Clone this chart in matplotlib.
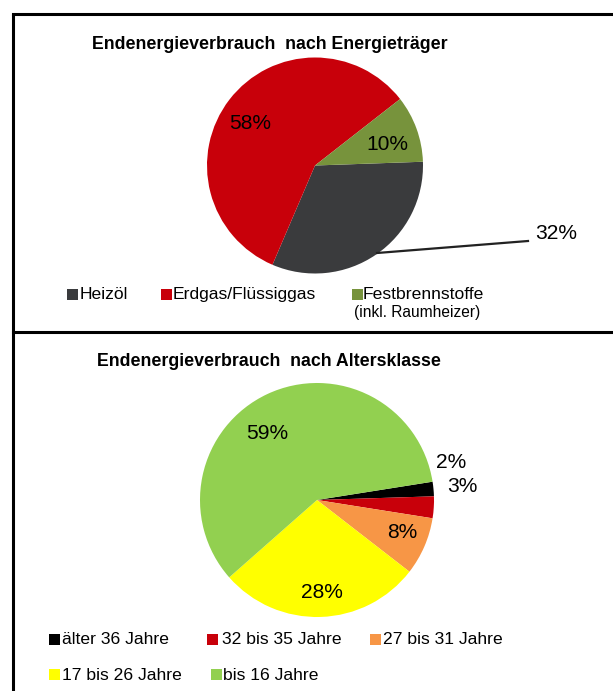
import matplotlib
matplotlib.use("Agg")
import matplotlib.pyplot as plt
from matplotlib.patches import Rectangle

plt.rcParams['font.family'] = ['Liberation Sans', 'DejaVu Sans']

# Final energy consumption by energy carrier
carrier_labels = ["Heizöl", "Erdgas/Flüssiggas", "Festbrennstoffe"]
carrier_values = [32, 58, 10]
carrier_colors = ["#3a3b3d", "#c8000a", "#77933c"]

# Final energy consumption by age class
age_labels = ["älter 36 Jahre", "32 bis 35 Jahre", "27 bis 31 Jahre",
              "17 bis 26 Jahre", "bis 16 Jahre"]
age_values = [2, 3, 8, 28, 59]
age_colors = ["#000000", "#c8000a", "#f79646", "#ffff00", "#92d050"]

W, H = 613, 691
fig = plt.figure(figsize=(W / 100, H / 100), dpi=100)
ax = fig.add_axes([0, 0, 1, 1])


def Y(y):
    return H - y


PT = 0.72  # pixel -> point at 100 dpi

# frame
ax.plot([13, 13], [Y(14), Y(H + 5)], color='black', lw=2.2, solid_capstyle='butt')
ax.plot([13, W + 5], [Y(14), Y(14)], color='black', lw=2.2)
ax.plot([13, W + 5], [Y(332), Y(332)], color='black', lw=2.2)

# ---------- top chart ----------
ax.text(270, Y(44), "Endenergieverbrauch  nach Energieträger", ha='center',
        va='center', fontsize=17.8 * PT, fontweight='bold')

c1 = (315, Y(165.5))
r1 = 108
ax.pie(carrier_values, colors=carrier_colors, startangle=2, counterclock=False,
       center=c1, radius=r1, wedgeprops=dict(linewidth=0), frame=True)

ptxt = dict(ha='center', va='center', fontsize=21 * PT)
ax.text(250, Y(123), f"{carrier_values[1]}%", **ptxt)
ax.text(387, Y(144), f"{carrier_values[2]}%", **ptxt)
ax.plot([377, 528], [Y(253), Y(241)], color='#222222', lw=1.6)
ax.text(556, Y(233), f"{carrier_values[0]}%", **ptxt)

leg1 = [(67, 80), (161, 173), (352, 363)]
for (sx, tx), lab, col in zip(leg1, carrier_labels, carrier_colors):
    ax.add_patch(Rectangle((sx, Y(299.5)), 11, 11, color=col, lw=0))
    ax.text(tx, Y(294.5), lab, ha='left', va='center', fontsize=17.5 * PT)
ax.text(417, Y(312), "(inkl. Raumheizer)", ha='center', va='center', fontsize=15.5 * PT)

# ---------- bottom chart ----------
ax.text(269, Y(361), "Endenergieverbrauch  nach Altersklasse", ha='center',
        va='center', fontsize=17.8 * PT, fontweight='bold')

c2 = (317, Y(500))
r2 = 117
ax.pie(age_values, colors=age_colors, startangle=9, counterclock=False,
       center=c2, radius=r2, wedgeprops=dict(linewidth=0), frame=True)

label_pos = [(451, 463), (462, 487), (402, 533), (322, 593), (267, 433)]
for (lx, ly), v in zip(label_pos, age_values):
    ax.text(lx, Y(ly), f"{v}%", **ptxt)

leg2 = [(49, 62, 640), (207, 222, 640), (370, 383, 640), (49, 62, 675), (211, 223, 675)]
for (sx, tx, ty), lab, col in zip(leg2, age_labels, age_colors):
    ax.add_patch(Rectangle((sx, Y(ty + 5)), 11, 11, color=col, lw=0))
    ax.text(tx, Y(ty), lab, ha='left', va='center', fontsize=17.5 * PT)

ax.set_xlim(0, W)
ax.set_ylim(0, H)
ax.set_aspect('equal')
ax.axis('off')

fig.savefig("out.png", dpi=100)
